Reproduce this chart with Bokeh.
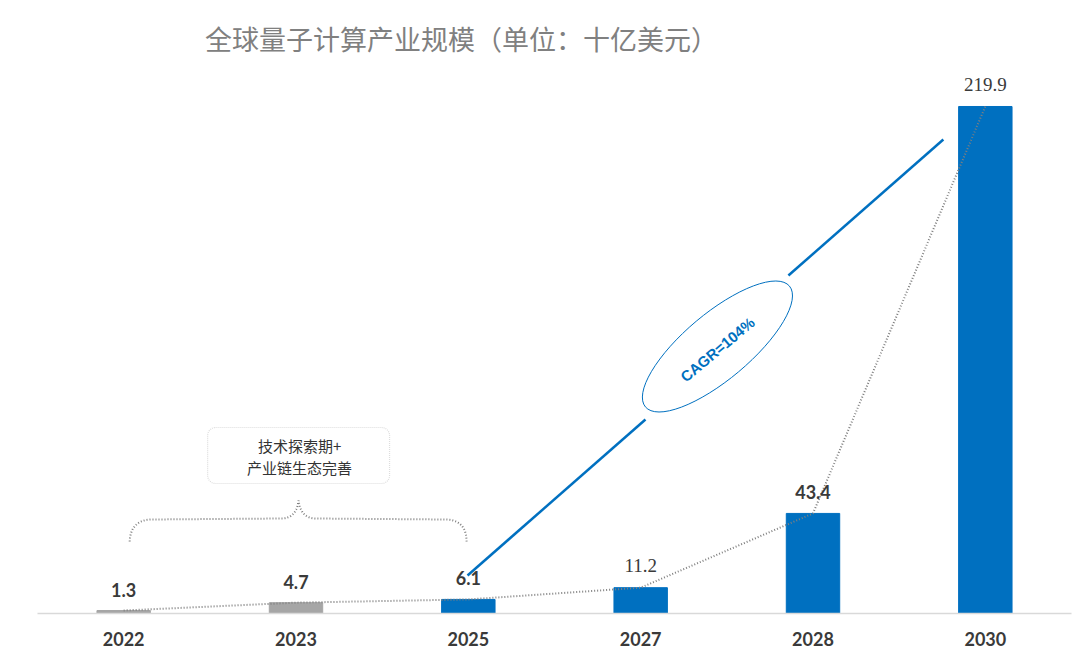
import numpy as np
from bokeh.plotting import figure
from bokeh.models import FactorRange, Range1d, BoxAnnotation, Label, ColumnDataSource
from bokeh.embed import file_html
from bokeh.resources import INLINE
from bokeh.core.properties import value

# ---------------- data ----------------
years = ["2022", "2023", "2025", "2027", "2028", "2030"]
market = [1.3, 4.7, 6.1, 11.2, 43.4, 219.9]
value_labels = ["1.3", "4.7", "6.1", "11.2", "43.4", "219.9"]
gray_years = ["2022", "2023"]
serif_years = ["2027", "2030"]
title_text = "全球量子计算产业规模（单位：十亿美元）"
box_lines = ["技术探索期+", "产业链生态完善"]
cagr_text = "CAGR=104%"

BLUE = "#0070c0"
GRAY_BAR = "#a6a6a6"
DARK = "#3a3a3a"

# reference-pixel helpers for annotation placement
PX_LEFT, PX_STEP, BASE, PX_PER = 36.8, 172.4, 613.0, 2.3056
def sx(px):
    return (px - PX_LEFT) / PX_STEP
def vy(py):
    return (BASE - py) / PX_PER

p = figure(x_range=FactorRange(factors=years), y_range=Range1d(0, BASE / PX_PER),
           width=1072, height=652, output_backend="svg", toolbar_location=None,
           y_axis_location=None, min_border_left=37, min_border_right=1,
           min_border_top=0, min_border_bottom=39)
p.outline_line_color = None
p.grid.visible = False
p.background_fill_color = "white"

colors = [GRAY_BAR if y in gray_years else BLUE for y in years]
src = ColumnDataSource(dict(x=years, top=market, color=colors, lab=value_labels))
p.vbar(x="x", top="top", width=0.31, color="color", source=src)

# dotted trend line through bar tops
p.line(x=years, y=market, line_color="#7f7f7f", line_width=2, line_dash="1 2")

# value labels
bold_idx = [i for i, y in enumerate(years) if y not in serif_years]
serif_idx = [i for i, y in enumerate(years) if y in serif_years]
p.text(x=[years[i] for i in bold_idx], y=[market[i] for i in bold_idx],
       text=[value_labels[i] for i in bold_idx], y_offset=-21,
       text_align="center", text_baseline="middle", text_font=value("Lato"),
       text_font_style="bold", text_font_size="18px", text_color=DARK)
p.text(x=[years[i] for i in serif_idx], y=[market[i] for i in serif_idx],
       text=[value_labels[i] for i in serif_idx], y_offset=-22,
       text_align="center", text_baseline="middle", text_font=value("Liberation Serif"),
       text_font_size="19px", text_color=DARK)

# CAGR line with ellipse
p.multi_line(xs=[[sx(467), sx(645)], [sx(788), sx(943)]],
             ys=[[vy(575), vy(419)], [vy(275), vy(139)]],
             line_color=BLUE, line_width=2.5)
p.ellipse(x=[sx(717)], y=[vy(346)], width=188, height=66, width_units="screen",
          height_units="screen", angle=40, angle_units="deg", fill_alpha=0,
          line_color=BLUE, line_width=1)
p.text(x=[sx(717)], y=[vy(349)], text=[cagr_text], angle=40, angle_units="deg",
       text_align="center", text_baseline="middle", text_font=value("Liberation Sans"),
       text_font_style="bold", text_font_size="15px", text_color=BLUE)

# curly brace (dotted)
def quad(p0, c, p1, n=24):
    t = np.linspace(0, 1, n)[:, None]
    return (1 - t) ** 2 * np.array(p0) + 2 * (1 - t) * t * np.array(c) + t ** 2 * np.array(p1)

pts = np.vstack([
    quad((129, 541), (130, 520), (150, 519)),
    quad((150, 519), (216, 518.5), (282, 518)),
    quad((282, 518), (296, 517), (298, 500)),
    quad((298, 500), (300, 517), (314, 518)),
    quad((314, 518), (380, 518.5), (446, 519)),
    quad((446, 519), (466, 520), (466, 541)),
])
p.line(x=[sx(a) for a in pts[:, 0]], y=[vy(b) for b in pts[:, 1]],
       line_color="#7f7f7f", line_width=2, line_dash="1 2")

# rounded text box
p.add_layout(BoxAnnotation(left=sx(207), right=sx(389), top=vy(427), bottom=vy(483),
                           border_radius=8, fill_alpha=0, line_color="#909090",
                           line_width=1.2, line_dash="1 1"))
p.text(x=[sx(299), sx(299)], y=[vy(445), vy(467)], text=box_lines,
       text_align="center", text_baseline="middle", text_font=value("Noto Sans CJK SC"),
       text_font_size="15px", text_color="#333333")

# title
p.add_layout(Label(x=sx(461), y=vy(38), text=title_text, text_align="center",
                   text_baseline="middle", text_font="Noto Sans CJK SC",
                   text_font_size="27px", text_color="#808080"))

# x axis
ax = p.xaxis[0]
ax.axis_line_color = "#d9d9d9"
ax.axis_line_width = 1.5
ax.major_tick_line_color = None
ax.minor_tick_line_color = None
ax.major_label_text_font = "Lato"
ax.major_label_text_font_style = "bold"
ax.major_label_text_font_size = "18px"
ax.major_label_text_color = DARK
ax.major_label_standoff = 12

open("out.html", "w").write(file_html(p, INLINE))
